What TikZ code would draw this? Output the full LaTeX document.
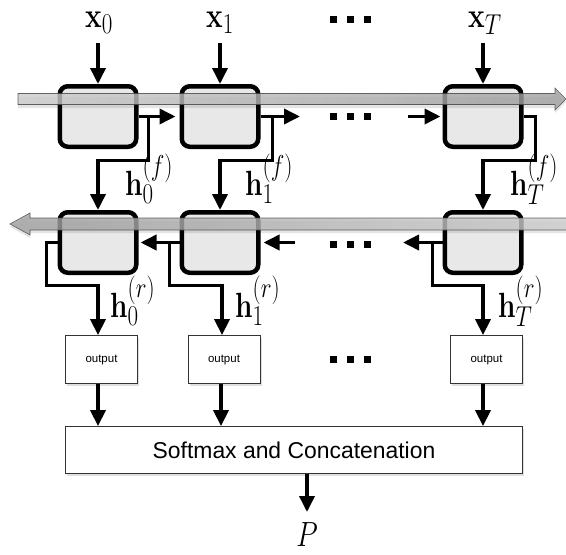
\documentclass[tikz,border=0pt]{standalone}
\usepackage{fix-cm}
\usepackage[no-math]{fontspec}
\newfontfamily\sansf{Liberation Sans}
\usetikzlibrary{arrows.meta,shadows,calc}
\DeclareMathSizes{28}{28}{23}{17}
\definecolor{cellgray}{gray}{0.91}
\definecolor{barlight}{gray}{0.80}
\definecolor{bardark}{gray}{0.62}
\newcommand{\bv}[1]{\textbf{#1}}
\begin{document}
\begin{tikzpicture}[x=1pt,y=-1pt,
  cell/.style={draw, line width=4.5pt, rounded corners=8pt, fill=cellgray,
    minimum width=76.5pt, minimum height=60.5pt, inner sep=0pt},
  outbox/.style={draw=black!80, line width=0.8pt, fill=white, inner sep=0pt,
    drop shadow={shadow xshift=1.5pt, shadow yshift=-2pt, opacity=0.25}},
  arr/.style={line width=3.6pt, -{Triangle[width=15pt,length=16pt]}},
  mlab/.style={inner sep=0pt, font=\fontsize{28}{32}\selectfont},
  smalltxt/.style={font=\sansf\fontsize{11.5}{13}\selectfont},
  bigtxt/.style={font=\sansf\fontsize{22.9}{26}\selectfont},
  dotsq/.style={fill=black, minimum size=7pt, inner sep=0pt},
  barline/.style={draw=black!75, line width=0.6pt, opacity=0.8}
]
\useasboundingbox (0,0) rectangle (566,555);

% cells
\node[cell] (f0) at (98,116.5) {};
\node[cell] (f1) at (220,116.5) {};
\node[cell] (fT) at (483,116.5) {};
\node[cell] (r0) at (98,242.5) {};
\node[cell] (r1) at (220,242.5) {};
\node[cell] (rT) at (483,242.5) {};

% gray bars (on top, translucent)
\fill[black, opacity=0.10] (18,97) -- (555,97) -- (555,91) -- (566,102) -- (555,113) -- (555,108) -- (18,108) -- cycle;
\shade[left color=barlight, right color=bardark, barline]
  (18,93.5) -- (555,93.5) -- (555,88) -- (566,99) -- (555,110) -- (555,104.5) -- (18,104.5) -- cycle;
\fill[black, opacity=0.10] (566,221) -- (30,221) -- (30,216) -- (10,227) -- (30,238) -- (30,233) -- (566,233) -- cycle;
\shade[left color=bardark, right color=barlight, barline]
  (567,218) -- (30,218) -- (30,213) -- (10,224) -- (30,235) -- (30,230) -- (567,230) -- cycle;

% input labels
\node[mlab, anchor=base] (lx0) at (99,27) {\scalebox{1}[1.25]{$\bv{x}_0$}};
\node[mlab, anchor=base] (lx1) at (220,27) {\scalebox{1}[1.25]{$\bv{x}_1$}};
\node[mlab, anchor=base] (lxT) at (485,27) {\scalebox{1}[1.25]{$\bv{x}_T$}};
\coordinate (in0) at (98,43);
\coordinate (in1) at (220,43);
\coordinate (inT) at (483,43);
\draw[arr] (in0) -- (f0.north);
\draw[arr] (in1) -- (f1.north);
\draw[arr] (inT) -- (fT.north);

% dots
\foreach \y in {19.5,116.5,244.5,359.5}{
  \node[dotsq] at (333.5,\y) {};
  \node[dotsq] at (350.5,\y) {};
  \node[dotsq] at (367.5,\y) {};
}

% forward connections
\coordinate (fe1) at (300,116.5);
\coordinate (fs) at (408,116.5);
\draw[arr, shorten >=4pt] (f0.east) -- (f1.west);
\draw[arr] (f1.east) -- (fe1);
\draw[arr, shorten >=2pt] (fs) -- (fT.west);
\draw[arr] (f0.east) -- ++(10,0) -- ++(0,44) -| (r0.north);
\draw[arr] (f1.east) -- ++(12,0) -- ++(0,44) -| (r1.north);
\draw[arr] (fT.east) -- ++(12,0) -- ++(0,44) -| (rT.north);

% h^(f) labels
\node[mlab, anchor=base west] (hf0) at (125,195) {\scalebox{1}[1.25]{$\bv{h}_0^{(f)}$}};
\node[mlab, anchor=base west] (hf1) at (245,195) {\scalebox{1}[1.25]{$\bv{h}_1^{(f)}$}};
\node[mlab, anchor=base west] (hfT) at (510,195) {\scalebox{1}[1.25]{$\bv{h}_T^{(f)}$}};

% output boxes
\node[outbox, minimum width=72pt, minimum height=48pt, smalltxt] (o0) at (101.5,359.5) {output};
\node[outbox, minimum width=72pt, minimum height=48pt, smalltxt] (o1) at (224,359.5) {output};
\node[outbox, minimum width=72pt, minimum height=48pt, smalltxt] (oT) at (486.5,359.5) {output};

% reverse connections
\coordinate (re1) at (295,242.5);
\coordinate (rs) at (403,242.5);
\draw[arr, shorten >=2pt] (r1.west) -- (r0.east);
\draw[arr, shorten >=3pt] (re1) -- (r1.east);
\draw[arr] (rT.west) -- (rs);
\draw[arr] (r0.west) -- ++(-11,0) -- ++(0,43) -| (r0.center |- o0.north);
\draw[arr] (r1.west) -- ++(-10,0) -- ++(0,43) -| ([xshift=2pt]r1.center |- o1.north);
\draw[arr] (rT.west) -- ++(-10,0) -- ++(0,43) -| (rT.center |- oT.north);

% h^(r) labels
\node[mlab, anchor=base west] (hr0) at (110,317) {\scalebox{1}[1.25]{$\bv{h}_0^{(r)}$}};
\node[mlab, anchor=base west] (hr1) at (235,317) {\scalebox{1}[1.25]{$\bv{h}_1^{(r)}$}};
\node[mlab, anchor=base west] (hrT) at (498,317) {\scalebox{1}[1.25]{$\bv{h}_T^{(r)}$}};

% softmax
\node[outbox, minimum width=457pt, minimum height=47pt, bigtxt] (sm) at (294,450) {Softmax and Concatenation};
\draw[arr] (o0.south -| r0.center) -- (sm.north -| r0.center);
\draw[arr] ([xshift=1pt]o1.south -| r1.center) -- ([xshift=1pt]sm.north -| r1.center);
\draw[arr] (oT.south -| rT.center) -- (sm.north -| rT.center);

% P
\node[mlab, anchor=base] (lP) at (307,546) {\scalebox{1}[1.25]{$P$}};
\coordinate (pend) at (307,512);
\draw[arr] (sm.south -| pend) -- (pend);
\end{tikzpicture}
\end{document}
